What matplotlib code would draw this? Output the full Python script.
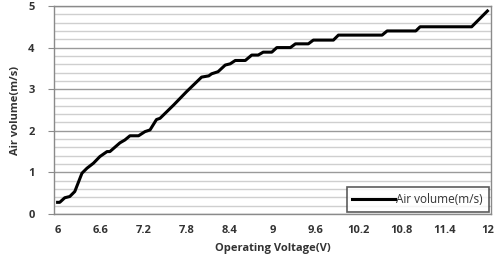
import matplotlib.pyplot as plt
import numpy as np

# values
voltage = [6.0, 6.03, 6.10, 6.17, 6.24, 6.34, 6.41, 6.50, 6.59, 6.69, 6.73,
           6.87, 6.94, 7.01, 7.13, 7.22, 7.29, 7.38, 7.43, 7.62, 7.80, 8.01,
           8.11, 8.15, 8.24, 8.34, 8.41, 8.48, 8.62, 8.71, 8.80, 8.87, 8.99,
           9.06, 9.25, 9.32, 9.50, 9.57, 9.85, 9.92, 10.53, 10.60, 11.0,
           11.06, 11.78, 12.0]
air_volume = [0.28, 0.28, 0.39, 0.42, 0.54, 0.98, 1.10, 1.22, 1.38, 1.50, 1.50,
              1.71, 1.78, 1.88, 1.88, 1.98, 2.02, 2.27, 2.30, 2.62, 2.94, 3.29,
              3.32, 3.37, 3.42, 3.58, 3.61, 3.69, 3.69, 3.82, 3.82, 3.89, 3.89,
              4.0, 4.0, 4.09, 4.09, 4.18, 4.18, 4.30, 4.30, 4.40, 4.40,
              4.50, 4.50, 4.88]
xticks = [6, 6.6, 7.2, 7.8, 8.4, 9, 9.6, 10.2, 10.8, 11.4, 12]
xtick_labels = ['6', '6.6', '7.2', '7.8', '8.4', '9', '9.6', '10.2', '10.8', '11.4', '12']

plt.rcParams['font.family'] = ['Open Sans', 'DejaVu Sans']

fig = plt.figure(figsize=(5.02, 2.60), dpi=100)
ax = fig.add_axes([0.1076, 0.177, 0.8705, 0.8])

ax.set_yticks(np.arange(0, 5.01, 0.2), minor=True)
ax.set_yticks(range(0, 6))
ax.grid(True, which='minor', axis='y', color='#cfcfcf', lw=1.0)
ax.grid(True, which='major', axis='y', color='#9a9a9a', lw=1.0)
ax.set_axisbelow(True)

ax.plot(voltage, air_volume, color='black', lw=2.2, label='Air volume(m/s)',
        solid_joinstyle='round')

ax.set_xlim(5.95, 12.05)
ax.set_ylim(0, 5)
ax.set_xticks(xticks)
ax.set_xticklabels(xtick_labels)

for s in ax.spines.values():
    s.set_color('#8a8a8a')
    s.set_linewidth(1.0)

ax.tick_params(axis='x', length=0, pad=8, labelsize=8, labelcolor='#333333')
ax.tick_params(axis='y', which='major', length=4, color='#8a8a8a', pad=10,
               labelsize=8, labelcolor='#333333')
ax.tick_params(axis='y', which='minor', length=0)
for t in ax.get_xticklabels() + ax.get_yticklabels():
    t.set_fontweight('bold')

ax.set_xlabel('Operating Voltage(V)', fontsize=8, fontweight='bold',
              color='#333333', labelpad=5)
ax.set_ylabel('Air volume(m/s)', fontsize=8, fontweight='bold',
              color='#333333', labelpad=5)

leg = ax.legend(loc='lower right', fontsize=8.5, frameon=True, fancybox=False,
                borderaxespad=0.2, handlelength=3.6, handletextpad=0.1,
                borderpad=0.5)
leg.get_frame().set_edgecolor('#333333')
leg.get_frame().set_linewidth(1.2)
for t in leg.get_texts():
    t.set_color('#333333')

fig.savefig('out.png', dpi=100)
